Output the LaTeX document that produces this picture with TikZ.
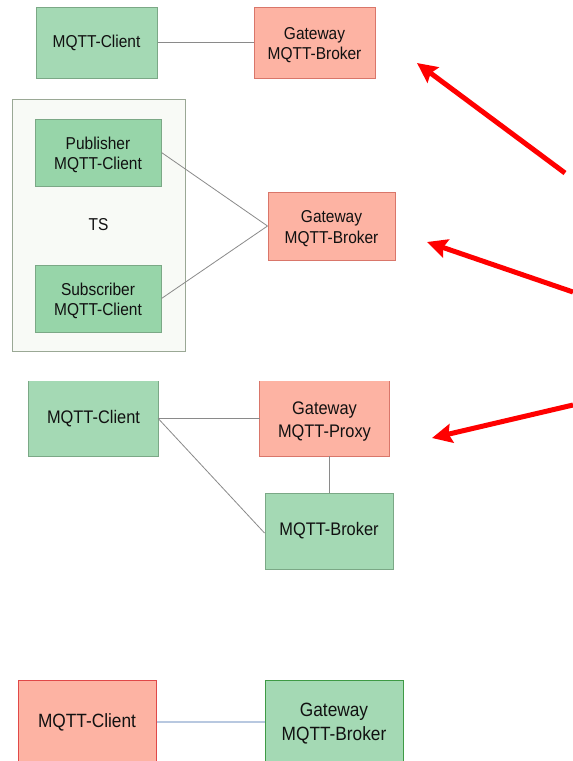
\documentclass[tikz,border=0pt]{standalone}
\usepackage{fontspec}
\setmainfont[FakeStretch=0.9]{Liberation Sans}
\usetikzlibrary{arrows.meta}

\definecolor{boxgreen}{HTML}{A4D9B4}
\definecolor{boxgreenB}{HTML}{97D5A9}
\definecolor{edgegreen}{HTML}{7BA886}
\definecolor{edgegreenD}{HTML}{3E9A45}
\definecolor{boxred}{HTML}{FDB3A3}
\definecolor{edgered}{HTML}{D9766A}
\definecolor{edgeredD}{HTML}{E04848}
\definecolor{groupfill}{HTML}{F8FAF6}
\definecolor{groupedge}{HTML}{9AA895}
\definecolor{wire}{HTML}{8A8A8A}
\definecolor{wireblue}{HTML}{B8C8E0}
\definecolor{txt}{HTML}{111111}

% invisible strut that lowers a two-line label a little inside its box
\newcommand\toppad[1]{\rule{0pt}{#1}}

\tikzset{
  base/.style={rectangle, inner sep=0pt, align=center, text=txt},
  szA/.style={font=\fontsize{17.2}{20.5}\selectfont},
  szB/.style={font=\fontsize{18.2}{23}\selectfont},
  szC/.style={font=\fontsize{19.2}{23.5}\selectfont},
  greenbox/.style={base, fill=boxgreen, draw=edgegreen, line width=1pt},
  redbox/.style={base, fill=boxred, draw=edgered, line width=1pt},
  openbox/.style={base, draw=none},
  group/.style={base, fill=groupfill, draw=groupedge, line width=1pt},
  wireline/.style={draw=wire, line width=0.8pt},
  pointer/.style={draw=red, line width=5pt,
    -{Stealth[length=20pt, width=19pt, inset=3pt]}},
}

\begin{document}
\begin{tikzpicture}[x=1pt, y=-1pt]
\clip (0,0) rectangle (573,761);
\fill[white] (0,0) rectangle (573,761);

% --- direct client to gateway broker
\node[greenbox, szA, minimum width=121pt, minimum height=71pt] (c1) at (96.5,42.5) {MQTT-Client};
\node[redbox, szA, minimum width=121pt, minimum height=71pt] (g1) at (314.5,42.5) {\toppad{17.5pt}Gateway\\MQTT-Broker};
\draw[wireline] (c1.east) -- (g1.west);

% --- TS group with publisher and subscriber
\node[group, szA, minimum width=173pt, minimum height=252pt] (ts) at (98.5,225) {TS};
\node[greenbox, fill=boxgreenB, szA, minimum width=126pt, minimum height=67pt] (pub) at (98,152.5) {\toppad{17.5pt}Publisher\\MQTT-Client};
\node[greenbox, fill=boxgreenB, szA, minimum width=126pt, minimum height=67pt] (sub) at (98,298.5) {\toppad{17.5pt}Subscriber\\MQTT-Client};
\node[redbox, szA, minimum width=127pt, minimum height=68pt] (g2) at (331.5,226) {\toppad{17.5pt}Gateway\\MQTT-Broker};
\draw[wireline] (pub.east) -- (g2.west);
\draw[wireline] (sub.east) -- (g2.west);

% --- client with gateway proxy and broker
\node[openbox, fill=boxgreen, szB, minimum width=129pt, minimum height=75pt] (c3) at (93.5,418.5) {MQTT-Client};
\node[openbox, fill=boxred, szB, minimum width=129pt, minimum height=75pt] (px) at (324.5,418.5) {\toppad{19pt}Gateway\\MQTT-Proxy};
\draw[edgegreen, line width=1pt] (c3.north west) -- (c3.south west) -- (c3.south east) -- (c3.north east);
\draw[edgered, line width=1pt] (px.north west) -- (px.south west) -- (px.south east) -- (px.north east);
\node[greenbox, szB, minimum width=128pt, minimum height=76pt] (b3) at (329,531) {MQTT-Broker};
\draw[wireline] (c3.east) -- (px.west);
\draw[wireline] (c3.east) -- ([yshift=-2pt]b3.west);
\draw[wireline] (px.south -| b3.north) -- (b3.north);

% --- client behind the gateway broker
\node[redbox, draw=edgeredD, szC, minimum width=138pt, minimum height=84pt] (c4) at (87,722) {MQTT-Client};
\node[greenbox, draw=edgegreenD, szC, minimum width=138pt, minimum height=84pt] (g4) at (334,722) {\toppad{17pt}Gateway\\MQTT-Broker};
\draw[draw=wireblue, line width=1.5pt] (c4.east) -- (g4.west);

% --- red pointers
\coordinate (p1) at (565,173);
\coordinate (p2) at (573,292);
\coordinate (p3) at (573,405);
\coordinate (t1) at (417,63);
\coordinate (t2) at (427,242);
\coordinate (t3) at (432,438);
\draw[pointer] (p1) -- (t1);
\draw[pointer] (p2) -- (t2);
\draw[pointer] (p3) -- (t3);
\end{tikzpicture}
\end{document}
